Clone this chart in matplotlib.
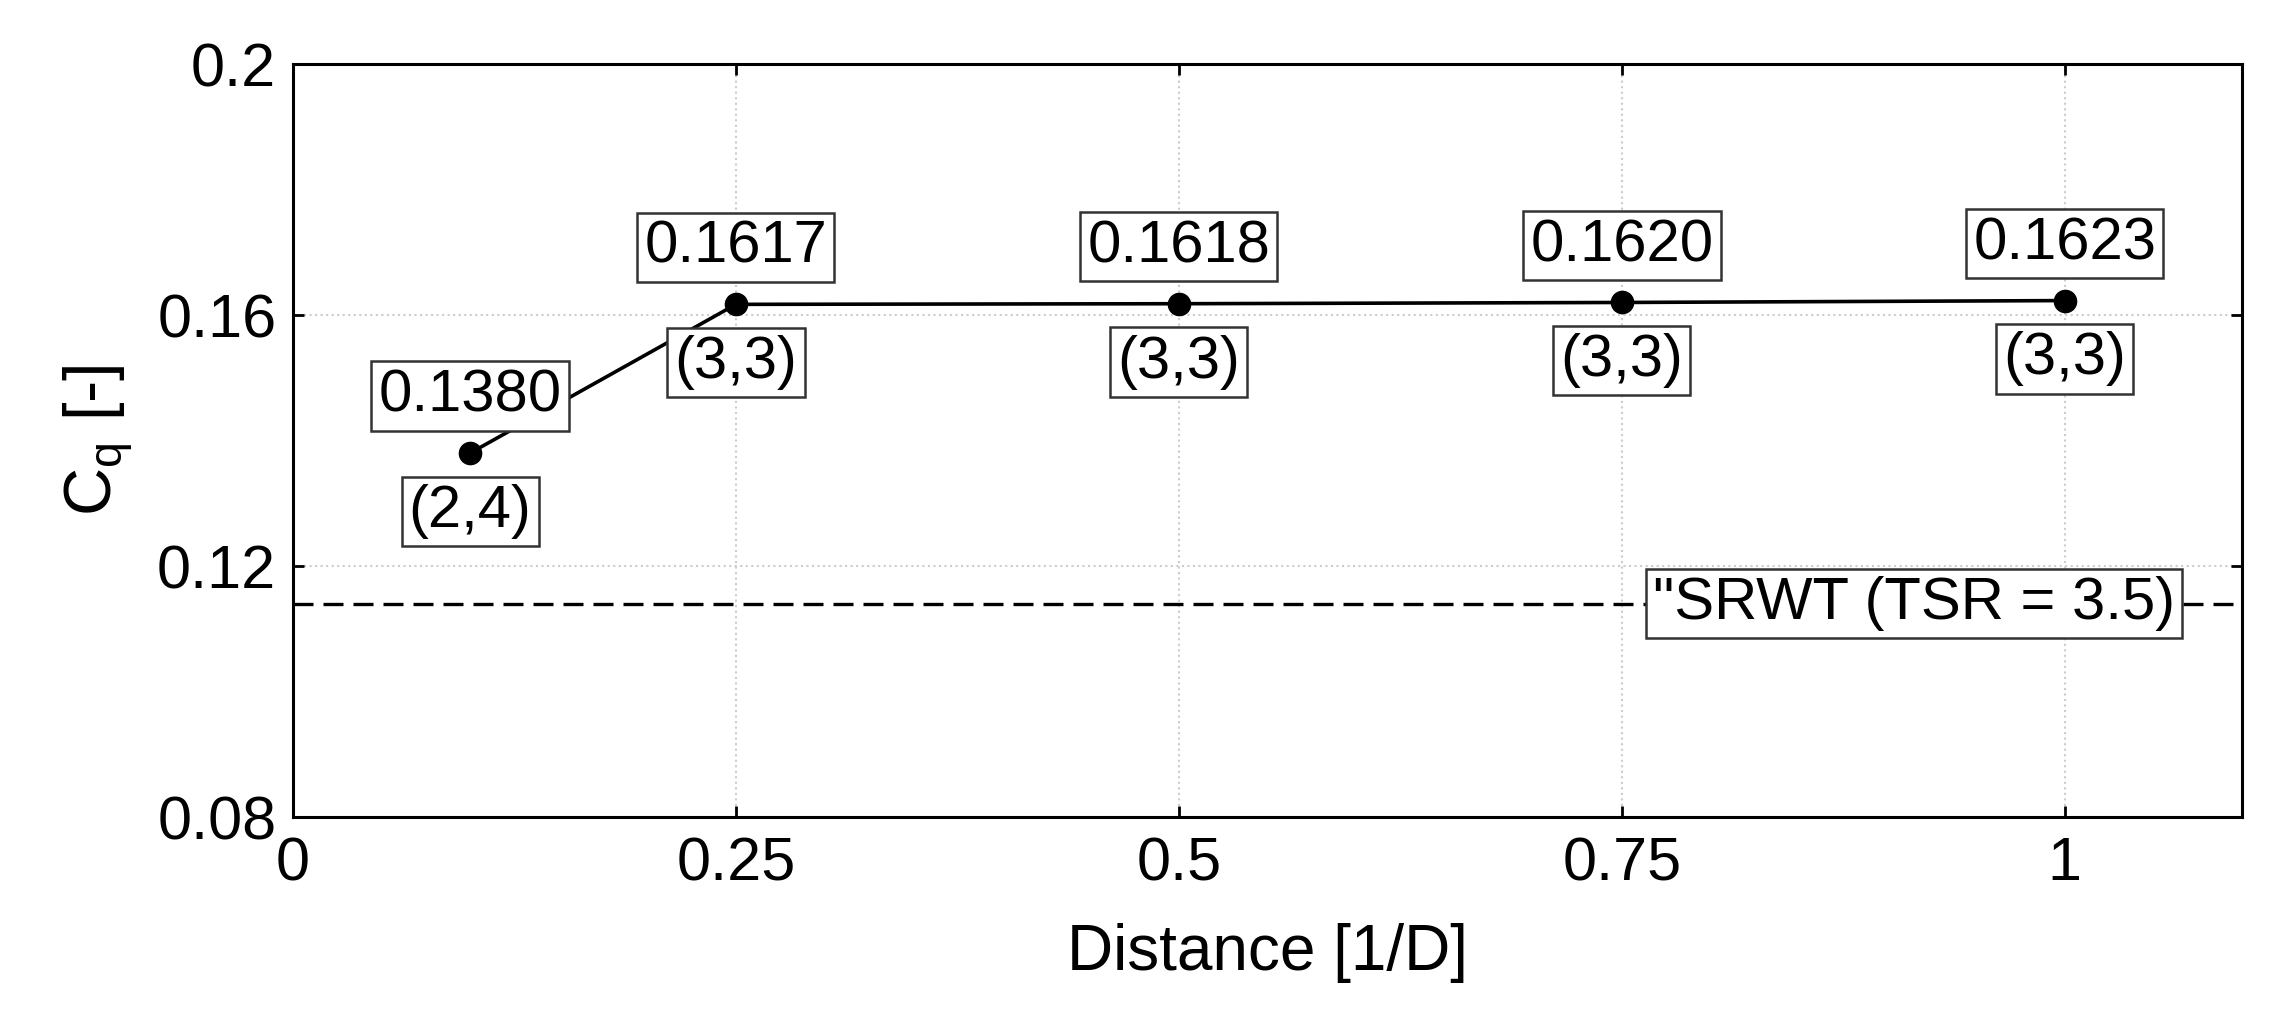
import matplotlib
matplotlib.use("Agg")
import matplotlib.pyplot as plt

# data
distance = [0.1, 0.25, 0.5, 0.75, 1.0]
cq = [0.1380, 0.1617, 0.1618, 0.1620, 0.1623]
value_labels = ["0.1380", "0.1617", "0.1618", "0.1620", "0.1623"]
grid_labels = ["(2,4)", "(3,3)", "(3,3)", "(3,3)", "(3,3)"]
srwt_cq = 0.114
srwt_label = '"SRWT (TSR = 3.5)'

xticks = [0, 0.25, 0.5, 0.75, 1]
xtick_labels = ["0", "0.25", "0.5", "0.75", "1"]
yticks = [0.08, 0.12, 0.16, 0.2]
ytick_labels = ["0.08", "0.12", "0.16", "0.2"]

plt.rcParams['font.family'] = ['Liberation Sans', 'DejaVu Sans']
plt.rcParams['mathtext.fontset'] = 'custom'
plt.rcParams['mathtext.rm'] = 'Liberation Sans'

fig = plt.figure(figsize=(22.8, 10.26), dpi=100)
ax = fig.add_axes([0.1285, 0.2037, 0.8548, 0.7339])

ax.plot(distance, cq, color="black", linewidth=2.6, marker="o", markersize=16, zorder=2)
ax.axhline(srwt_cq, color="black", linewidth=2.4, dashes=(6, 3), zorder=1.5)

box = dict(boxstyle="square,pad=0.12", facecolor="white", edgecolor="#333333", linewidth=1.8)
for x, y, v, g in zip(distance, cq, value_labels, grid_labels):
    ax.annotate(v, (x, y), xytext=(0, 41), textcoords="offset points",
                ha="center", va="center", fontsize=43, bbox=box, zorder=3)
    ax.annotate(g, (x, y), xytext=(0, -42), textcoords="offset points",
                ha="center", va="center", fontsize=43, bbox=box, zorder=3)

ax.text(0.915, srwt_cq, srwt_label, ha="center", va="center", fontsize=43, bbox=box, zorder=3)

ax.set_xlim(0, 1.1)
ax.set_ylim(0.08, 0.2)
ax.set_xticks(xticks)
ax.set_xticklabels(xtick_labels)
ax.set_yticks(yticks)
ax.set_yticklabels(ytick_labels)
ax.grid(True, linestyle=":", color="#cccccc", linewidth=1.5)
ax.set_axisbelow(True)

ax.tick_params(direction="in", length=8, width=2, top=True, right=True, labelsize=44)
ax.tick_params(axis="x", pad=14)
ax.tick_params(axis="y", pad=12)
for s in ax.spines.values():
    s.set_linewidth(2.2)

ax.set_xlabel("Distance [1/D]", fontsize=46, labelpad=21)
ax.set_ylabel("C$_\\mathregular{q}$ [-]", fontsize=48, labelpad=16)

fig.savefig("out.png", dpi=100)
